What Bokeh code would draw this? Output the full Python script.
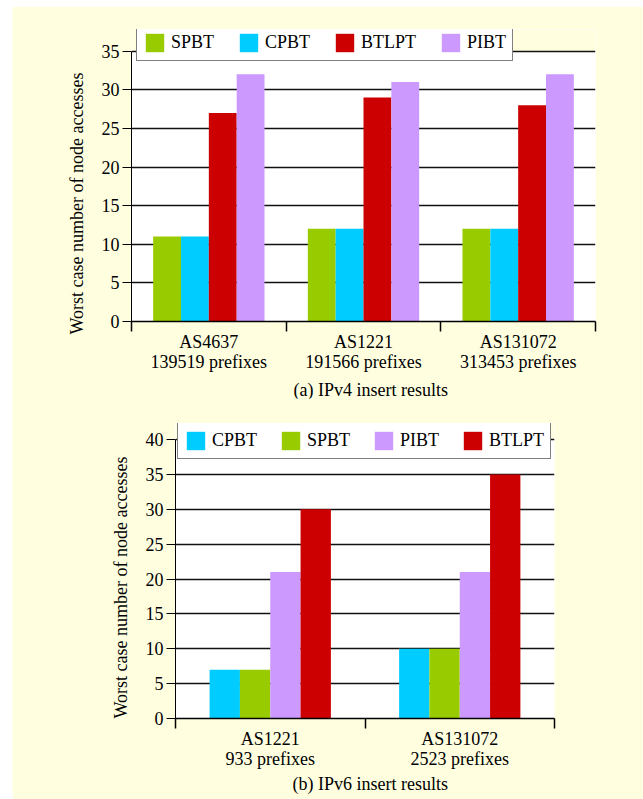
from bokeh.plotting import figure
from bokeh.models import (ColumnDataSource, Range1d, FixedTicker, SingleIntervalTicker,
                          Legend, LegendItem, Title, BoxAnnotation)
from bokeh.transform import dodge
from bokeh.embed import file_html
from bokeh.resources import INLINE

FONT = "Liberation Serif"
BG = "#FFFFE0"

# ---- data: (a) IPv4 ----
groups_v4 = ["AS4637", "AS1221", "AS131072"]
prefixes_v4 = ["139519 prefixes", "191566 prefixes", "313453 prefixes"]
series_v4 = ["SPBT", "CPBT", "BTLPT", "PIBT"]
spbt_v4 = [11, 12, 12]
cpbt_v4 = [11, 12, 12]
btlpt_v4 = [27, 29, 28]
pibt_v4 = [32, 31, 32]

# ---- data: (b) IPv6 ----
groups_v6 = ["AS1221", "AS131072"]
prefixes_v6 = ["933 prefixes", "2523 prefixes"]
series_v6 = ["CPBT", "SPBT", "PIBT", "BTLPT"]
cpbt_v6 = [7, 10]
spbt_v6 = [7, 10]
pibt_v6 = [21, 21]
btlpt_v6 = [30, 35]

colors = {"SPBT": "#99CC00", "CPBT": "#00CCFF", "BTLPT": "#CC0000", "PIBT": "#CC99FF"}
y_label = "Worst case number of node accesses"


def make_panel(groups, prefixes, series, values, ymax, ytop, height, borders, bar_w,
               legend_loc, legend_spacing, caption, cap_offset, ylab_offset, cap_standoff, margin):
    n = len(groups)
    data = {"pos": [i + 0.5 for i in range(n)]}
    data.update(values)
    src = ColumnDataSource(data)
    left, right, top, bottom = borders
    p = figure(width=631, height=height, margin=margin,
               styles={"vertical-align": "top"},
               output_backend="svg", toolbar_location=None,
               x_range=Range1d(0, n), y_range=Range1d(0, ytop),
               min_border_left=left, min_border_right=right,
               min_border_top=top, min_border_bottom=bottom,
               background_fill_color="white", border_fill_color=BG,
               outline_line_color=None)
    # area above the value axis top belongs to the page background
    p.add_layout(BoxAnnotation(bottom=ymax, fill_color=BG, fill_alpha=1.0,
                               line_color=None, level="image"))
    k = len(series)
    items = []
    for j, name in enumerate(series):
        off = (j - (k - 1) / 2) * bar_w
        r = p.vbar(x=dodge("pos", off), top=name, width=bar_w, source=src,
                   fill_color=colors[name], line_color=None)
        items.append(LegendItem(label=name, renderers=[r]))

    # x axis
    xa = p.xaxis[0]
    xa.ticker = FixedTicker(ticks=[i + 0.5 for i in range(n)],
                            minor_ticks=[float(i) for i in range(n + 1)])
    xa.major_label_overrides = {i + 0.5: f"{g}\n{pf}" for i, (g, pf) in enumerate(zip(groups, prefixes))}
    xa.axis_line_color = "black"
    xa.axis_line_width = 1.5
    xa.major_tick_line_color = None
    xa.major_tick_out = 10
    xa.major_tick_in = 0
    xa.minor_tick_line_color = "black"
    xa.minor_tick_line_width = 1.5
    xa.minor_tick_out = 10
    xa.minor_tick_in = 0
    xa.major_label_standoff = 0
    xa.major_label_text_font = FONT
    xa.major_label_text_font_size = "18px"
    xa.major_label_text_color = "black"
    xa.major_label_text_line_height = 1.0

    # y axis
    ya = p.yaxis[0]
    ya.ticker = SingleIntervalTicker(interval=5, num_minor_ticks=0)
    ya.bounds = (0, ymax)
    ya.axis_line_color = "black"
    ya.axis_line_width = 1
    ya.major_tick_line_color = "black"
    ya.major_tick_out = 9
    ya.major_tick_in = 0
    ya.minor_tick_line_color = None
    ya.major_label_standoff = 3
    ya.major_label_text_font = FONT
    ya.major_label_text_font_size = "18px"
    ya.major_label_text_color = "black"

    p.add_layout(Title(text=y_label, align="left", offset=ylab_offset, text_font=FONT,
                       text_font_size="18px", text_font_style="normal",
                       text_color="black", standoff=23), "left")

    p.xgrid.visible = False
    p.ygrid.grid_line_color = "#111111"
    p.ygrid.grid_line_width = 1.4

    legend = Legend(items=items, orientation="horizontal", location=legend_loc,
                    glyph_width=23, glyph_height=23, label_standoff=5, spacing=legend_spacing,
                    padding=6, margin=0, border_line_color="black", border_line_width=1.5,
                    background_fill_color="white", background_fill_alpha=1.0,
                    label_text_font=FONT, label_text_font_size="18px",
                    label_text_color="black")
    p.add_layout(legend)

    p.add_layout(Title(text=caption, align="left", offset=cap_offset, text_font=FONT,
                       text_font_size="18px", text_font_style="normal", text_color="black",
                       standoff=cap_standoff), "below")
    return p


pa = make_panel(groups_v4, prefixes_v4, series_v4,
                {"SPBT": spbt_v4, "CPBT": cpbt_v4, "BTLPT": btlpt_v4, "PIBT": pibt_v4},
                35, 37.8, 396, (119, 48, 23, 78), 0.18, (5, 260), 23,
                "(a) IPv4 insert results", 162, -13, 6, (6, 0, 0, 12))
pb = make_panel(groups_v6, prefixes_v6, series_v6,
                {"CPBT": cpbt_v6, "SPBT": spbt_v6, "PIBT": pibt_v6, "BTLPT": btlpt_v6},
                40, 42.3, 401, (163, 89, 25, 81), 0.16, (2, 259), 22,
                "(b) IPv6 insert results", 117, 0, 1, (-4, 0, 0, 12))

open("out.html", "w").write(file_html([pa, pb], INLINE))
